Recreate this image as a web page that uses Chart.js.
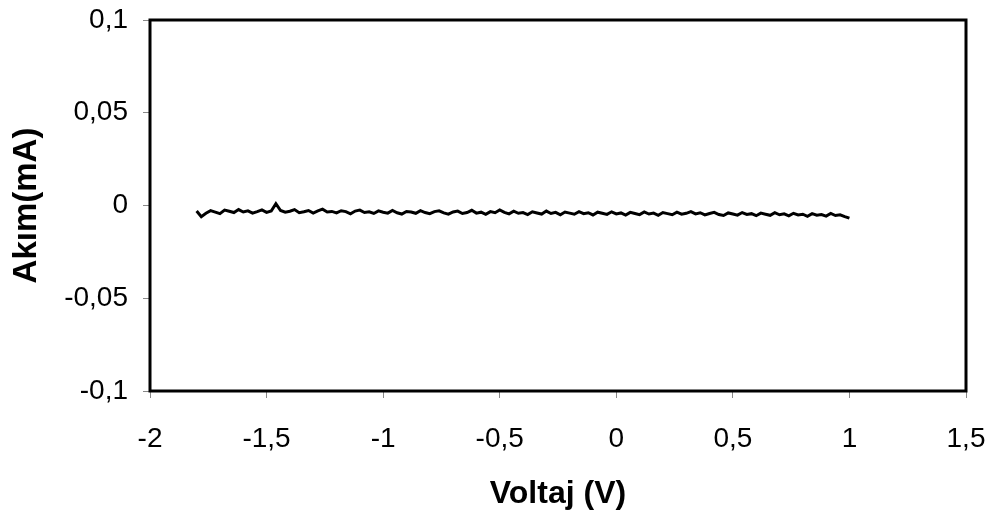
<!DOCTYPE html>
<html>
<head>
<meta charset="utf-8">
<script src="https://cdn.jsdelivr.net/npm/chart.js@4.4.1/dist/chart.umd.min.js"></script>
<style>
  html, body { margin: 0; padding: 0; background: #ffffff; }
  #wrap { width: 993px; height: 517px; }
</style>
</head>
<body>
<div id="wrap"><canvas id="c" width="993" height="517"></canvas></div>
<script>
const voltage = [
 -1.80,-1.78,-1.76,-1.74,-1.72,-1.70,-1.68,-1.66,-1.64,-1.62,
 -1.60,-1.58,-1.56,-1.54,-1.52,-1.50,-1.48,-1.46,-1.44,-1.42,
 -1.40,-1.38,-1.36,-1.34,-1.32,-1.30,-1.28,-1.26,-1.24,-1.22,
 -1.20,-1.18,-1.16,-1.14,-1.12,-1.10,-1.08,-1.06,-1.04,-1.02,
 -1.00,-0.98,-0.96,-0.94,-0.92,-0.90,-0.88,-0.86,-0.84,-0.82,
 -0.80,-0.78,-0.76,-0.74,-0.72,-0.70,-0.68,-0.66,-0.64,-0.62,
 -0.60,-0.58,-0.56,-0.54,-0.52,-0.50,-0.48,-0.46,-0.44,-0.42,
 -0.40,-0.38,-0.36,-0.34,-0.32,-0.30,-0.28,-0.26,-0.24,-0.22,
 -0.20,-0.18,-0.16,-0.14,-0.12,-0.10,-0.08,-0.06,-0.04,-0.02,
  0.00, 0.02, 0.04, 0.06, 0.08, 0.10, 0.12, 0.14, 0.16, 0.18,
  0.20, 0.22, 0.24, 0.26, 0.28, 0.30, 0.32, 0.34, 0.36, 0.38,
  0.40, 0.42, 0.44, 0.46, 0.48, 0.50, 0.52, 0.54, 0.56, 0.58,
  0.60, 0.62, 0.64, 0.66, 0.68, 0.70, 0.72, 0.74, 0.76, 0.78,
  0.80, 0.82, 0.84, 0.86, 0.88, 0.90, 0.92, 0.94, 0.96, 0.98,
  1.00
];
const current = [
 -0.0030,-0.0060,-0.0042,-0.0028,-0.0036,-0.0044,-0.0025,-0.0031,-0.0038,-0.0022,
 -0.0035,-0.0029,-0.0041,-0.0033,-0.0024,-0.0037,-0.0030, 0.0010,-0.0027,-0.0036,
 -0.0031,-0.0022,-0.0039,-0.0034,-0.0027,-0.0041,-0.0029,-0.0020,-0.0035,-0.0032,
 -0.0040,-0.0028,-0.0033,-0.0045,-0.0030,-0.0025,-0.0038,-0.0034,-0.0043,-0.0029,
 -0.0036,-0.0041,-0.0027,-0.0039,-0.0046,-0.0032,-0.0035,-0.0042,-0.0028,-0.0038,
 -0.0044,-0.0033,-0.0029,-0.0040,-0.0047,-0.0035,-0.0030,-0.0043,-0.0038,-0.0026,
 -0.0041,-0.0036,-0.0048,-0.0033,-0.0039,-0.0024,-0.0037,-0.0045,-0.0031,-0.0042,
 -0.0038,-0.0049,-0.0034,-0.0040,-0.0046,-0.0030,-0.0043,-0.0037,-0.0050,-0.0035,
 -0.0041,-0.0047,-0.0033,-0.0044,-0.0039,-0.0051,-0.0036,-0.0042,-0.0048,-0.0034,
 -0.0045,-0.0040,-0.0052,-0.0037,-0.0043,-0.0049,-0.0035,-0.0046,-0.0041,-0.0053,
 -0.0038,-0.0044,-0.0050,-0.0036,-0.0047,-0.0042,-0.0033,-0.0045,-0.0039,-0.0051,
 -0.0043,-0.0037,-0.0049,-0.0054,-0.0040,-0.0046,-0.0052,-0.0038,-0.0048,-0.0044,
 -0.0055,-0.0041,-0.0047,-0.0053,-0.0039,-0.0050,-0.0045,-0.0056,-0.0042,-0.0051,
 -0.0047,-0.0058,-0.0044,-0.0052,-0.0049,-0.0057,-0.0043,-0.0054,-0.0050,-0.0060,
 -0.0068
];
const xTickValues = [-2, -1.5, -1, -0.5, 0, 0.5, 1, 1.5];
const yTickValues = [-0.1, -0.05, 0, 0.05, 0.1];
const xTitle = 'Voltaj (V)';
const yTitle = 'Akım(mA)';

const points = voltage.map((v, i) => ({ x: v, y: current[i] }));

function fmt(v) {
  const r = Math.round(v * 1000) / 1000;
  return String(r).replace('.', ',');
}

const framePlugin = {
  id: 'frame',
  afterDatasetsDraw(chart) {
    const a = chart.chartArea, ctx = chart.ctx;
    ctx.save();
    ctx.strokeStyle = '#000';
    ctx.lineWidth = 3;
    ctx.strokeRect(a.left, a.top, a.right - a.left, a.bottom - a.top);
    ctx.restore();
  }
};

const FONT = 'Liberation Sans, Arial, sans-serif';

new Chart(document.getElementById('c'), {
  type: 'line',
  data: {
    datasets: [{
      data: points,
      borderColor: '#000',
      borderWidth: 3,
      pointRadius: 0,
      tension: 0,
      fill: false
    }]
  },
  options: {
    responsive: false,
    animation: false,
    layout: { padding: { top: 20, right: 27, left: 0, bottom: 0 } },
    plugins: { legend: { display: false }, tooltip: { enabled: false } },
    scales: {
      x: {
        type: 'linear',
        min: -2, max: 1.5,
        afterBuildTicks(s) { s.ticks = xTickValues.map(v => ({ value: v })); },
        afterFit(s) { s.height = 126; s.paddingLeft = 0; s.paddingRight = 0; },
        grid: { display: true, drawOnChartArea: false, drawTicks: true, tickLength: 7, color: '#888', lineWidth: 1 },
        border: { display: false },
        ticks: {
          color: '#000', padding: 24, maxRotation: 0, autoSkip: false,
          font: { family: FONT, size: 28 },
          callback: v => fmt(v)
        },
        title: {
          display: true, text: xTitle, color: '#000',
          font: { family: FONT, size: 32, weight: 'bold' },
          padding: { top: 0, bottom: 4 }
        }
      },
      y: {
        type: 'linear',
        min: -0.1, max: 0.1,
        afterBuildTicks(s) { s.ticks = yTickValues.map(v => ({ value: v })); },
        afterFit(s) { s.width = 150; s.paddingTop = 0; s.paddingBottom = 0; },
        grid: { display: true, drawOnChartArea: false, drawTicks: true, tickLength: 7, color: '#888', lineWidth: 1 },
        border: { display: false },
        ticks: {
          color: '#000', padding: 15, autoSkip: false,
          font: { family: FONT, size: 28 },
          callback: v => fmt(v)
        },
        title: {
          display: true, text: yTitle, color: '#000',
          font: { family: FONT, size: 33, weight: 'bold' },
          padding: { top: 7, bottom: 0 }
        }
      }
    }
  },
  plugins: [framePlugin]
});
</script>
</body>
</html>
